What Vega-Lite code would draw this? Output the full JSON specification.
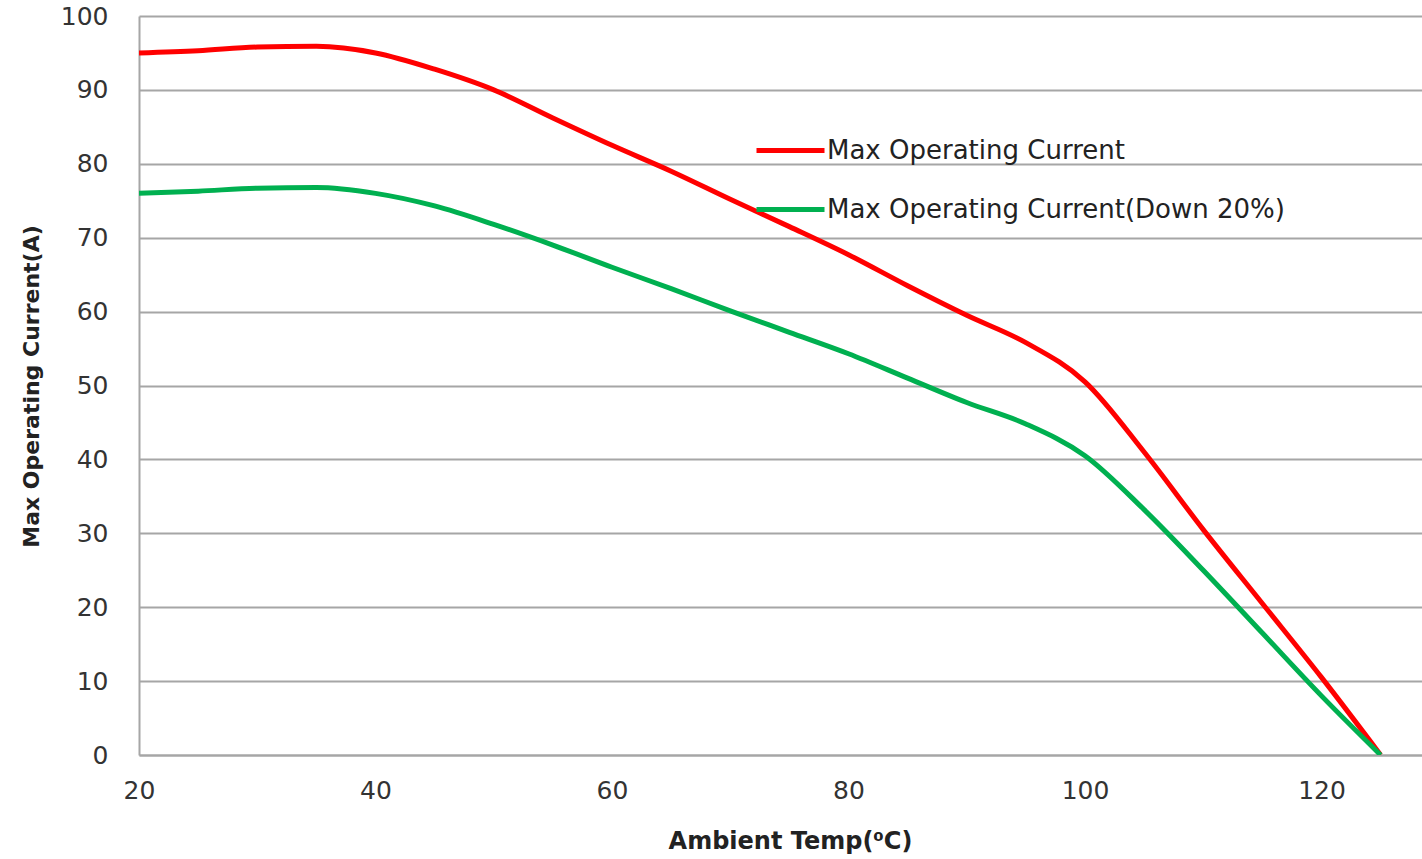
{
  "$schema": "https://vega.github.io/schema/vega-lite/v6.json",
  "width": 1283,
  "height": 739,
  "autosize": {"type": "none"},
  "padding": {"left": 139, "top": 16, "right": 0, "bottom": 104},
  "background": "white",
  "config": {
    "view": {"stroke": null},
    "font": "DejaVu Sans"
  },
  "data": {
    "values": [
      {"temp": 20, "current": 95, "series": "Max Operating Current"},
      {"temp": 25, "current": 95.3, "series": "Max Operating Current"},
      {"temp": 30, "current": 95.8, "series": "Max Operating Current"},
      {"temp": 35, "current": 95.9, "series": "Max Operating Current"},
      {"temp": 40, "current": 95, "series": "Max Operating Current"},
      {"temp": 45, "current": 92.8, "series": "Max Operating Current"},
      {"temp": 50, "current": 90, "series": "Max Operating Current"},
      {"temp": 55, "current": 86.2, "series": "Max Operating Current"},
      {"temp": 60, "current": 82.5, "series": "Max Operating Current"},
      {"temp": 65, "current": 79, "series": "Max Operating Current"},
      {"temp": 70, "current": 75.2, "series": "Max Operating Current"},
      {"temp": 75, "current": 71.5, "series": "Max Operating Current"},
      {"temp": 80, "current": 67.7, "series": "Max Operating Current"},
      {"temp": 85, "current": 63.5, "series": "Max Operating Current"},
      {"temp": 90, "current": 59.5, "series": "Max Operating Current"},
      {"temp": 95, "current": 55.8, "series": "Max Operating Current"},
      {"temp": 100, "current": 50.5, "series": "Max Operating Current"},
      {"temp": 105, "current": 41, "series": "Max Operating Current"},
      {"temp": 110, "current": 30.5, "series": "Max Operating Current"},
      {"temp": 115, "current": 20.5, "series": "Max Operating Current"},
      {"temp": 120, "current": 10.5, "series": "Max Operating Current"},
      {"temp": 125, "current": 0, "series": "Max Operating Current"},
      {"temp": 20, "current": 76, "series": "Max Operating Current(Down 20%)"},
      {"temp": 25, "current": 76.3, "series": "Max Operating Current(Down 20%)"},
      {"temp": 30, "current": 76.7, "series": "Max Operating Current(Down 20%)"},
      {"temp": 35, "current": 76.8, "series": "Max Operating Current(Down 20%)"},
      {"temp": 40, "current": 76, "series": "Max Operating Current(Down 20%)"},
      {"temp": 45, "current": 74.3, "series": "Max Operating Current(Down 20%)"},
      {"temp": 50, "current": 71.8, "series": "Max Operating Current(Down 20%)"},
      {"temp": 55, "current": 69, "series": "Max Operating Current(Down 20%)"},
      {"temp": 60, "current": 66, "series": "Max Operating Current(Down 20%)"},
      {"temp": 65, "current": 63.1, "series": "Max Operating Current(Down 20%)"},
      {"temp": 70, "current": 60.1, "series": "Max Operating Current(Down 20%)"},
      {"temp": 75, "current": 57.2, "series": "Max Operating Current(Down 20%)"},
      {"temp": 80, "current": 54.3, "series": "Max Operating Current(Down 20%)"},
      {"temp": 85, "current": 51, "series": "Max Operating Current(Down 20%)"},
      {"temp": 90, "current": 47.7, "series": "Max Operating Current(Down 20%)"},
      {"temp": 95, "current": 44.8, "series": "Max Operating Current(Down 20%)"},
      {"temp": 100, "current": 40.5, "series": "Max Operating Current(Down 20%)"},
      {"temp": 105, "current": 33.2, "series": "Max Operating Current(Down 20%)"},
      {"temp": 110, "current": 25, "series": "Max Operating Current(Down 20%)"},
      {"temp": 115, "current": 16.5, "series": "Max Operating Current(Down 20%)"},
      {"temp": 120, "current": 8, "series": "Max Operating Current(Down 20%)"},
      {"temp": 125, "current": 0, "series": "Max Operating Current(Down 20%)"}
    ]
  },
  "mark": {"type": "line", "interpolate": "monotone", "strokeWidth": 5, "clip": true},
  "encoding": {
    "x": {
      "field": "temp",
      "type": "quantitative",
      "scale": {"domain": [20, 128.5], "nice": false, "zero": false},
      "axis": {
        "values": [20, 40, 60, 80, 100, 120],
        "title": "Ambient Temp(⁰C)",
        "grid": false,
        "ticks": false,
        "domainColor": "#A6A6A6",
        "domainWidth": 2,
        "labelFont": "DejaVu Sans",
        "labelFontSize": 25,
        "labelColor": "#333333",
        "labelPadding": 23,
        "labelFlush": false,
        "titleFont": "DejaVu Sans",
        "titleFontSize": 24,
        "titleFontWeight": "bold",
        "titleColor": "#222222",
        "titleX": 651,
        "titleY": 86,
        "titleBaseline": "middle",
        "titleAnchor": "middle"
      }
    },
    "y": {
      "field": "current",
      "type": "quantitative",
      "scale": {"domain": [0, 100], "nice": false},
      "axis": {
        "values": [0, 10, 20, 30, 40, 50, 60, 70, 80, 90, 100],
        "title": "Max Operating Current(A)",
        "grid": true,
        "gridColor": "#A6A6A6",
        "gridWidth": 2,
        "ticks": false,
        "domainColor": "#A6A6A6",
        "domainWidth": 2,
        "labelFont": "DejaVu Sans",
        "labelFontSize": 25,
        "labelColor": "#333333",
        "labelPadding": 31,
        "labelFlush": false,
        "titleFont": "DejaVu Sans",
        "titleFontSize": 22,
        "titleFontWeight": "bold",
        "titleColor": "#222222",
        "titleAngle": -90,
        "titleX": -108,
        "titleY": 370,
        "titleBaseline": "middle",
        "titleAnchor": "middle"
      }
    },
    "color": {
      "field": "series",
      "type": "nominal",
      "scale": {
        "domain": ["Max Operating Current", "Max Operating Current(Down 20%)"],
        "range": ["#FF0000", "#00B050"]
      },
      "legend": {
        "title": null,
        "orient": "none",
        "legendX": 615,
        "legendY": 98,
        "symbolType": "stroke",
        "symbolSize": 4624,
        "symbolStrokeWidth": 5,
        "labelFont": "DejaVu Sans",
        "labelFontSize": 26,
        "labelColor": "#222222",
        "labelOffset": 0,
        "rowPadding": 9,
        "labelLimit": 600
      }
    }
  }
}
